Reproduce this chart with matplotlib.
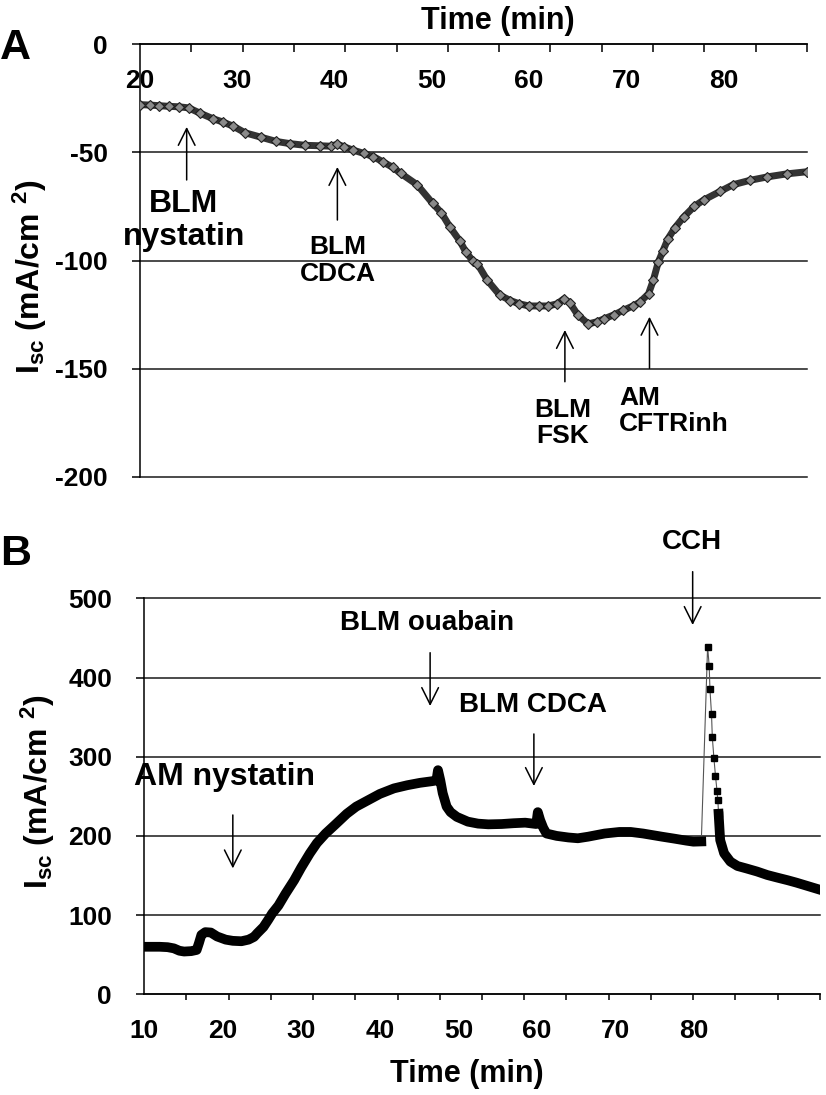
import numpy as np
import matplotlib
matplotlib.use("Agg")
import matplotlib.pyplot as plt

# ==========================================================
# Fuentes
# ==========================================================
plt.rcParams['font.family'] = ['Liberation Sans', 'DejaVu Sans']
plt.rcParams['font.weight'] = 'bold'
plt.rcParams['axes.unicode_minus'] = False
plt.rcParams['mathtext.fontset'] = 'custom'
plt.rcParams['mathtext.rm'] = 'Liberation Sans:bold'
plt.rcParams['mathtext.bf'] = 'Liberation Sans:bold'
plt.rcParams['mathtext.it'] = 'Liberation Sans:bold'

# ==========================================================
# Datos panel A
# ==========================================================
tiempo_a = [20.0, 21.0, 22.0, 23.0, 24.0, 25.0, 26.2, 27.5, 28.5, 29.6,
            30.8, 32.4, 34.0, 35.4, 37.0, 38.5, 39.6, 40.3, 41.0, 41.9,
            43.0, 44.0, 45.0, 46.0, 46.8, 48.5, 50.1, 51.0, 51.9, 52.9,
            53.5, 54.2, 54.7, 55.7, 57.0, 58.1, 59.0, 60.0, 61.0, 62.0,
            62.9, 63.6, 64.2, 65.0, 66.1, 67.0, 67.7, 68.8, 69.7, 70.7,
            71.4, 72.3, 72.8, 73.3, 73.8, 74.3, 75.0, 75.9, 77.0, 78.0,
            79.7, 81.0, 82.7, 84.5, 86.5, 88.6]
isc_a = [-28.0, -28.2, -28.5, -28.8, -29.0, -29.5, -32.0, -34.5, -36.0, -38.0,
         -41.0, -43.0, -45.0, -46.0, -46.8, -47.0, -47.2, -46.3, -47.5, -49.0,
         -50.5, -52.0, -54.5, -57.0, -59.7, -65.0, -73.6, -78.0, -84.7, -91.0,
         -96.0, -100.0, -101.5, -109.0, -116.0, -118.5, -120.0, -121.0, -121.0, -121.0,
         -120.0, -117.7, -119.5, -125.0, -129.3, -128.3, -127.0, -125.0, -123.0, -121.0,
         -119.3, -115.4, -109.0, -100.8, -95.4, -90.0, -85.0, -80.0, -75.0, -72.0,
         -68.0, -65.0, -63.0, -61.4, -60.0, -59.0]

ticks_a_x = [20, 30, 40, 50, 60, 70, 80]
ticks_a_y = [0, -50, -100, -150, -200]

# ==========================================================
# Datos panel B
# ==========================================================
tiempo_b = [10.0, 11.0, 12.0, 13.0, 13.8, 14.5, 15.1, 16.0, 16.7, 17.0,
            17.3, 17.8, 18.5, 19.3, 20.4, 21.3, 22.4, 23.3, 24.0, 24.4,
            25.2, 25.8, 26.3, 27.1, 28.0, 29.1, 30.0, 31.1, 32.0, 33.1,
            34.3, 35.8, 37.0, 38.5, 40.0, 41.8, 43.5, 45.1, 46.6, 47.2,
            47.4, 47.7, 48.0, 48.5, 49.0, 49.8, 51.2, 52.5, 53.8, 55.5,
            57.0, 58.5, 59.9, 60.1, 60.4, 60.8, 61.2, 62.5, 64.0, 65.2,
            66.5, 68.6, 70.5, 71.9, 73.5, 75.9, 77.5, 79.0, 79.9, 80.9,
            81.7, 81.9, 82.0, 82.2, 82.3, 82.5, 82.7, 82.9, 83.0, 83.1,
            83.2, 83.3, 83.8, 84.6, 85.5, 86.6, 88.0, 89.3, 90.5, 91.9,
            93.0, 94.0, 95.0, 96.0]
isc_b = [60, 60, 60, 59.5, 58, 55, 54, 54.5, 56, 65,
         75, 78.5, 78, 73, 69, 67.5, 67, 69, 72.5, 77,
         85, 94, 102, 112, 127, 144, 160, 178, 191, 203,
         214, 228, 237, 245, 253, 260, 264, 267, 269, 270,
         283, 270, 254, 237, 230, 224, 218, 215.5, 214.6, 215,
         216, 216.7, 215, 230, 220, 210, 203, 200, 198, 197,
         199, 203, 205, 205, 203, 199, 196.5, 194, 192.7, 193,
         439, 415, 385, 353.5, 324.5, 298.7, 276, 256.7, 245, 228,
         211.6, 194.8, 178, 167.5, 162, 159, 155, 150.6, 147.5, 144,
         141, 138, 135, 132]

ticks_b_x = [10, 20, 30, 40, 50, 60, 70, 80]
ticks_b_y = [0, 100, 200, 300, 400, 500]

# ==========================================================
# Figura
# ==========================================================
fig = plt.figure(figsize=(8.26, 10.95), dpi=100)
flecha = dict(arrowstyle='->,head_length=1.2,head_width=0.6', lw=1.1,
              color='black', shrinkA=0, shrinkB=0, mutation_scale=10)
ylabel_txt = r'$\mathbf{I}_{\mathbf{sc}}$ (mA/cm $^{\mathbf{2}}$)'

# ---------------------- Panel A ---------------------------
axA = fig.add_axes([140 / 826, 1 - 477 / 1095, 667 / 826, 433 / 1095])
axA.plot(tiempo_a, isc_a, color='#333333', lw=5.0, solid_joinstyle='round', zorder=3)
axA.plot(tiempo_a, isc_a, 'D', ms=4.8, mfc='#8a8a8a', mec='#1f1f1f', mew=0.8, zorder=4)
axA.set_xlim(20, 88.6)
axA.set_ylim(-200, 0)
axA.spines['bottom'].set_position(('data', 0))
axA.spines['top'].set_visible(False)
axA.spines['right'].set_visible(False)
for s in ['bottom', 'left']:
    axA.spines[s].set_linewidth(1.1)
axA.set_yticks(ticks_a_y)
axA.set_xticks(ticks_a_x)
axA.set_xticks(np.linspace(20, 88.6, 14), minor=True)
axA.tick_params(axis='x', which='major', length=0, pad=18, labelsize=19)
axA.tick_params(axis='x', which='minor', length=6, width=1.1, direction='out')
axA.tick_params(axis='y', length=6, width=1.1, direction='out', pad=17, labelsize=19)
axA.yaxis.grid(True, color='#1a1a1a', lw=1.1)
for gl in axA.get_ygridlines():
    gl.set_clip_on(False)
axA.set_axisbelow(True)
axA.set_title('Time (min)', x=0.537, y=1.0, pad=11, fontsize=22, fontweight='bold')
axA.set_ylabel(ylabel_txt, fontsize=23, fontweight='bold')
axA.yaxis.set_label_coords(-0.136, 0.464)

axA.annotate('', xy=(24.8, -38.3), xytext=(24.8, -62.8), arrowprops=flecha)
axA.text(24.5, -81.5, 'BLM\nnystatin', ha='center', va='center', fontsize=23, linespacing=1.12)
axA.annotate('', xy=(40.3, -56.8), xytext=(40.3, -81.3), arrowprops=flecha)
axA.text(40.3, -100, 'BLM\nCDCA', ha='center', va='center', fontsize=19, linespacing=1.12)
axA.annotate('', xy=(63.7, -132.1), xytext=(63.7, -156), arrowprops=flecha)
axA.text(63.5, -175, 'BLM\nFSK', ha='center', va='center', fontsize=19, linespacing=1.12)
axA.annotate('', xy=(72.4, -126), xytext=(72.4, -149.8), arrowprops=flecha)
axA.text(69.3, -169.5, 'AM\nCFTRinh', ha='left', va='center', fontsize=19, linespacing=1.12)

fig.text(15 / 826, 1 - 48 / 1095, 'A', ha='center', va='center', fontsize=31, fontweight='bold')

# ---------------------- Panel B ---------------------------
axB = fig.add_axes([144 / 826, 1 - 994.3 / 1095, 676 / 826, 396 / 1095])
tb = np.array(tiempo_b)
ib = np.array(isc_b)
antes = tb <= 81.2
pico = (tb > 81.2) & (tb <= 83.1)
despues = tb >= 83.1
axB.plot(tb, ib, color='#555555', lw=0.8, zorder=3)
axB.plot(tb[antes], ib[antes], color='black', lw=7.0, solid_joinstyle='round', zorder=4)
axB.plot(tb[despues], ib[despues], color='black', lw=7.0, solid_joinstyle='round', zorder=4)
axB.plot(tb[pico], ib[pico], 's', color='black', ms=4.5, zorder=5)
axB.set_xlim(10, 96)
axB.set_ylim(0, 500)
axB.spines['top'].set_visible(False)
axB.spines['right'].set_visible(False)
for s in ['bottom', 'left']:
    axB.spines[s].set_linewidth(1.1)
axB.set_yticks(ticks_b_y)
axB.set_xticks(ticks_b_x)
axB.set_xticks(np.linspace(10, 96, 17), minor=True)
axB.tick_params(axis='x', which='major', length=0, pad=18, labelsize=19)
axB.tick_params(axis='x', which='minor', length=4, width=1.1, direction='out')
axB.tick_params(axis='y', length=6, width=1.1, direction='out', pad=17, labelsize=19)
axB.yaxis.grid(True, color='#1a1a1a', lw=1.1)
for gl in axB.get_ygridlines():
    gl.set_clip_on(False)
axB.set_axisbelow(True)
axB.set_xlabel('Time (min)', fontsize=22, fontweight='bold')
axB.xaxis.set_label_coords(0.478, -0.163)
axB.set_ylabel(ylabel_txt, fontsize=23, fontweight='bold')
axB.yaxis.set_label_coords(-0.128, 0.511)

axB.annotate('', xy=(21.3, 159), xytext=(21.3, 226.4), arrowprops=flecha)
axB.text(20.3, 274.7, 'AM nystatin', ha='center', va='center', fontsize=23)
axB.annotate('', xy=(46.4, 364), xytext=(46.4, 431.3), arrowprops=flecha)
axB.text(46.0, 468.4, 'BLM ouabain', ha='center', va='center', fontsize=20)
axB.annotate('', xy=(59.6, 263), xytext=(59.6, 328.7), arrowprops=flecha)
axB.text(59.5, 365.3, 'BLM CDCA', ha='center', va='center', fontsize=20)
axB.annotate('', xy=(79.8, 466.3), xytext=(79.8, 533.6), arrowprops=flecha,
             annotation_clip=False)
axB.text(79.7, 571.5, 'CCH', ha='center', va='center', fontsize=20)

fig.text(16 / 826, 1 - 554 / 1095, 'B', ha='center', va='center', fontsize=31, fontweight='bold')

plt.savefig('out.png', dpi=100)
